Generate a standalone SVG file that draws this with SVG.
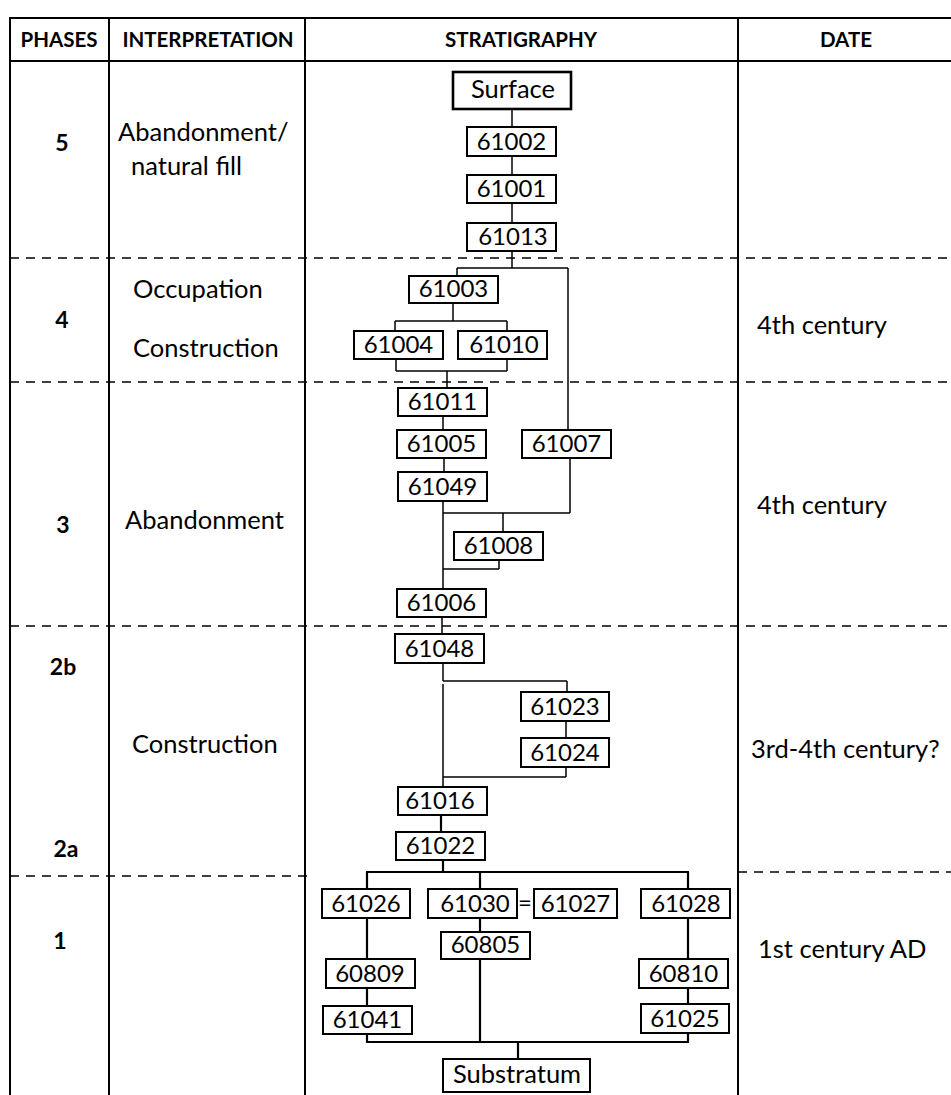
<svg xmlns="http://www.w3.org/2000/svg" width="951" height="1095" viewBox="0 0 951 1095">
<style>
.grid{stroke:#000;stroke-width:2;fill:none}
.dash{stroke:#000;stroke-width:1.3;stroke-dasharray:9 7;fill:none}
.hdr{font-family:Lato,"Liberation Sans",sans-serif;font-weight:bold;font-size:20.5px;fill:#000;text-anchor:middle}
.ph{font-family:Lato,"Liberation Sans",sans-serif;font-weight:bold;font-size:23px;fill:#000;text-anchor:middle}
.lbl{font-family:Lato,"Liberation Sans",sans-serif;font-size:25.5px;fill:#000}
.box rect{fill:#fff;stroke:#000;stroke-width:2}
.box text{font-family:Lato,"Liberation Sans",sans-serif;font-size:24px;fill:#000;text-anchor:middle}
.box text.w{font-size:25.5px}
.conn line{stroke:#000;stroke-width:1.5}
.conn .b{stroke-width:2.2}
</style>
<rect width="951" height="1095" fill="#fff"/>
<g id="table">
<line class="grid" x1="9" y1="18" x2="951" y2="18"/>
<line class="grid" x1="9" y1="61" x2="951" y2="61"/>
<line class="grid" x1="10" y1="17" x2="10" y2="1095"/>
<line class="grid" x1="109" y1="17" x2="109" y2="1095"/>
<line class="grid" x1="305" y1="17" x2="305" y2="1095"/>
<line class="grid" x1="738" y1="17" x2="738" y2="1095"/>
<line class="dash" x1="10" y1="258" x2="951" y2="258"/>
<line class="dash" x1="10" y1="382" x2="951" y2="382"/>
<line class="dash" x1="10" y1="626" x2="951" y2="626"/>
<line class="dash" x1="10" y1="876" x2="312" y2="876"/>
<line class="dash" x1="738" y1="872" x2="951" y2="872"/>
<text class="hdr" x="59" y="47">PHASES</text>
<text class="hdr" x="208" y="47">INTERPRETATION</text>
<text class="hdr" x="521" y="47">STRATIGRAPHY</text>
<text class="hdr" x="846" y="47">DATE</text>
<text class="ph" x="62" y="151">5</text>
<text class="ph" x="62" y="328">4</text>
<text class="ph" x="63" y="533">3</text>
<text class="ph" x="63" y="675">2b</text>
<text class="ph" x="66" y="857">2a</text>
<text class="ph" x="60" y="949">1</text>
<text class="lbl" x="118" y="141">Abandonment/</text>
<text class="lbl" x="131" y="175">natural fill</text>
<text class="lbl" x="133" y="298">Occupation</text>
<text class="lbl" x="133" y="357">Construction</text>
<text class="lbl" x="125" y="529">Abandonment</text>
<text class="lbl" x="132" y="753">Construction</text>
<text class="lbl" x="757" y="334">4th century</text>
<text class="lbl" x="757" y="514">4th century</text>
<text class="lbl" x="751" y="758">3rd-4th century?</text>
<text class="lbl" x="758" y="958">1st century AD</text>
</g>
<g id="connectors" class="conn">
<line x1="512" y1="109" x2="512" y2="127"/>
<line x1="512" y1="156" x2="512" y2="175"/>
<line x1="512" y1="203" x2="512" y2="223"/>
<line x1="512" y1="251" x2="512" y2="268"/>
<line x1="457" y1="268" x2="568" y2="268"/>
<line x1="457" y1="268" x2="457" y2="276"/>
<line x1="568" y1="268" x2="568" y2="430"/>
<line x1="453" y1="303" x2="453" y2="321"/>
<line x1="395" y1="321" x2="507" y2="321"/>
<line x1="395" y1="321" x2="395" y2="331"/>
<line x1="507" y1="321" x2="507" y2="331"/>
<line x1="396" y1="359" x2="396" y2="371"/>
<line x1="507" y1="359" x2="507" y2="371"/>
<line x1="396" y1="371" x2="507" y2="371"/>
<line x1="447" y1="371" x2="447" y2="388"/>
<line x1="443" y1="416" x2="443" y2="430"/>
<line x1="444" y1="458" x2="444" y2="472"/>
<line x1="443" y1="501" x2="443" y2="589"/>
<line x1="570" y1="458" x2="570" y2="513"/>
<line x1="443" y1="513" x2="570" y2="513"/>
<line x1="503" y1="513" x2="503" y2="532"/>
<line x1="499" y1="560" x2="499" y2="569"/>
<line x1="443" y1="569" x2="499" y2="569"/>
<line x1="442" y1="617" x2="442" y2="634"/>
<line x1="443" y1="663" x2="443" y2="681"/>
<line x1="443" y1="681" x2="567" y2="681"/>
<line x1="567" y1="681" x2="567" y2="692"/>
<line x1="443" y1="684" x2="443" y2="787"/>
<line x1="566" y1="721" x2="566" y2="738"/>
<line x1="566" y1="767" x2="566" y2="777"/>
<line x1="443" y1="777" x2="566" y2="777"/>
<line class="b" x1="441" y1="815" x2="441" y2="832"/>
<line class="b" x1="443" y1="860" x2="443" y2="872"/>
<line class="b" x1="366" y1="872" x2="689" y2="872"/>
<line class="b" x1="367" y1="872" x2="367" y2="889"/>
<line class="b" x1="480" y1="872" x2="480" y2="889"/>
<line class="b" x1="688" y1="872" x2="688" y2="889"/>
<line class="b" x1="367" y1="918" x2="367" y2="959"/>
<line class="b" x1="367" y1="988" x2="367" y2="1006"/>
<line class="b" x1="367" y1="1034" x2="367" y2="1042"/>
<line class="b" x1="480" y1="918" x2="480" y2="932"/>
<line class="b" x1="480" y1="959" x2="480" y2="1042"/>
<line class="b" x1="688" y1="918" x2="688" y2="959"/>
<line class="b" x1="688" y1="988" x2="688" y2="1004"/>
<line class="b" x1="688" y1="1033" x2="688" y2="1042"/>
<line class="b" x1="366" y1="1042" x2="689" y2="1042"/>
<line class="b" x1="518" y1="1042" x2="518" y2="1059"/>
</g>
<g id="n-surface" class="box"><rect x="453" y="72" width="118" height="37" style="stroke-width:2.6"/><text class="w" x="513" y="98">Surface</text></g>
<g id="n-61002" class="box"><rect x="467" y="127" width="89" height="29"/><text x="511.5" y="150">61002</text></g>
<g id="n-61001" class="box"><rect x="467" y="175" width="89" height="28"/><text x="511.5" y="197">61001</text></g>
<g id="n-61013" class="box"><rect x="467" y="223" width="89" height="28"/><text x="513" y="245">61013</text></g>
<g id="n-61003" class="box"><rect x="409" y="276" width="89" height="27"/><text x="453.5" y="297">61003</text></g>
<g id="n-61004" class="box"><rect x="354" y="331" width="89" height="28"/><text x="398.5" y="353">61004</text></g>
<g id="n-61010" class="box"><rect x="458" y="331" width="89" height="28"/><text x="504" y="353">61010</text></g>
<g id="n-61011" class="box"><rect x="398" y="388" width="89" height="28"/><text x="442.5" y="410">61011</text></g>
<g id="n-61005" class="box"><rect x="397" y="430" width="89" height="28"/><text x="441.5" y="452">61005</text></g>
<g id="n-61007" class="box"><rect x="522" y="430" width="89" height="28"/><text x="566.5" y="452">61007</text></g>
<g id="n-61049" class="box"><rect x="398" y="472" width="89" height="29"/><text x="442.5" y="495">61049</text></g>
<g id="n-61008" class="box"><rect x="454" y="532" width="89" height="28"/><text x="498.5" y="554">61008</text></g>
<g id="n-61006" class="box"><rect x="397" y="589" width="89" height="28"/><text x="441.5" y="611">61006</text></g>
<g id="n-61048" class="box"><rect x="395" y="634" width="89" height="29"/><text x="439.5" y="657">61048</text></g>
<g id="n-61023" class="box"><rect x="521" y="692" width="88" height="29"/><text x="565" y="715">61023</text></g>
<g id="n-61024" class="box"><rect x="521" y="738" width="88" height="29"/><text x="565" y="761">61024</text></g>
<g id="n-61016" class="box"><rect x="398" y="787" width="89" height="28"/><text x="440" y="809">61016</text></g>
<g id="n-61022" class="box"><rect x="396" y="832" width="89" height="28"/><text x="440.5" y="854">61022</text></g>
<g id="n-61026" class="box"><rect x="322" y="889" width="88" height="29"/><text x="366" y="912">61026</text></g>
<g id="n-61030" class="box"><rect x="428" y="889" width="89" height="29"/><text x="475" y="912">61030</text></g>
<text x="525" y="911" style="font-family:Lato,'Liberation Sans',sans-serif;font-size:24px;text-anchor:middle">=</text>
<g id="n-61027" class="box"><rect x="534" y="889" width="83" height="29"/><text x="575.5" y="912">61027</text></g>
<g id="n-61028" class="box"><rect x="641" y="889" width="89" height="29"/><text x="686" y="912">61028</text></g>
<g id="n-60805" class="box"><rect x="441" y="932" width="89" height="27"/><text x="485.5" y="953">60805</text></g>
<g id="n-60809" class="box"><rect x="326" y="959" width="89" height="29"/><text x="370" y="982">60809</text></g>
<g id="n-60810" class="box"><rect x="639" y="959" width="89" height="29"/><text x="683.5" y="982">60810</text></g>
<g id="n-61041" class="box"><rect x="323" y="1006" width="89" height="28"/><text x="367.5" y="1028">61041</text></g>
<g id="n-61025" class="box"><rect x="641" y="1004" width="88" height="29"/><text x="685" y="1027">61025</text></g>
<g id="n-substratum" class="box"><rect x="443" y="1059" width="147" height="33"/><text class="w" x="517" y="1083">Substratum</text></g>
</svg>
